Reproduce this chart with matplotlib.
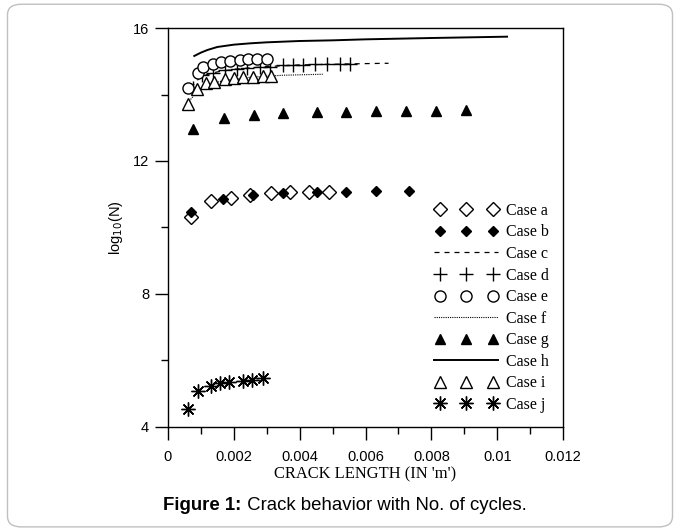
import matplotlib
matplotlib.use("Agg")
from matplotlib import pyplot as plt
from matplotlib.patches import FancyBboxPatch
from matplotlib.ticker import MultipleLocator
from matplotlib.legend_handler import HandlerLine2D

# data
a_x = [0.00070, 0.00131, 0.00192, 0.00250, 0.00313, 0.00371, 0.00429, 0.00490]
a_y = [10.33, 10.81, 10.90, 10.98, 11.04, 11.08, 11.08, 11.08]

b_x = [0.00070, 0.00167, 0.00259, 0.00350, 0.00453, 0.00542, 0.00633, 0.00733]
b_y = [10.46, 10.86, 10.98, 11.03, 11.06, 11.08, 11.11, 11.11]

c_x = [0.0007, 0.0010, 0.0015, 0.0020, 0.0030, 0.0040, 0.0050, 0.0060, 0.0067]
c_y = [14.20, 14.55, 14.68, 14.76, 14.84, 14.89, 14.91, 14.93, 14.94]

d_x = [0.00076, 0.00103, 0.00137, 0.00173, 0.00210, 0.00240, 0.00280, 0.00310,
       0.00350, 0.00380, 0.00411, 0.00447, 0.00484, 0.00523, 0.00554]
d_y = [14.19, 14.59, 14.64, 14.74, 14.76, 14.79, 14.84, 14.84,
       14.89, 14.89, 14.89, 14.91, 14.91, 14.92, 14.92]

e_x = [0.00061, 0.00091, 0.00107, 0.00137, 0.00161, 0.00189, 0.00219, 0.00243, 0.00271, 0.00301]
e_y = [14.19, 14.66, 14.82, 14.91, 14.97, 15.01, 15.04, 15.07, 15.07, 15.07]

f_x = [0.0006, 0.0009, 0.0012, 0.0017, 0.0025, 0.0035, 0.0047]
f_y = [13.75, 14.10, 14.30, 14.42, 14.52, 14.58, 14.61]

g_x = [0.00076, 0.00170, 0.00262, 0.00350, 0.00453, 0.00542, 0.00633, 0.00724, 0.00815, 0.00904]
g_y = [12.96, 13.30, 13.38, 13.43, 13.46, 13.48, 13.51, 13.51, 13.51, 13.53]

h_x = [0.0008, 0.0010, 0.0012, 0.0015, 0.0020, 0.0025, 0.0030, 0.0040, 0.0050, 0.0060, 0.0080, 0.0103]
h_y = [15.16, 15.26, 15.34, 15.43, 15.50, 15.54, 15.57, 15.61, 15.63, 15.66, 15.70, 15.74]

i_x = [0.00061, 0.00088, 0.00116, 0.00140, 0.00173, 0.00201, 0.00228, 0.00259, 0.00289, 0.00313]
i_y = [13.71, 14.16, 14.34, 14.37, 14.47, 14.49, 14.52, 14.54, 14.56, 14.56]

j_x = [0.00061, 0.00091, 0.00131, 0.00158, 0.00186, 0.00228, 0.00256, 0.00289]
j_y = [4.54, 5.08, 5.23, 5.31, 5.36, 5.39, 5.41, 5.48]

x_ticks = [0, 0.002, 0.004, 0.006, 0.008, 0.01, 0.012]
x_tick_labels = ["0", "0.002", "0.004", "0.006", "0.008", "0.01", "0.012"]
y_ticks = [4, 8, 12, 16]

plt.rcParams["font.family"] = "Liberation Sans"

fig = plt.figure(figsize=(6.8, 5.29), dpi=100)

# rounded grey frame around the whole figure
frame = FancyBboxPatch((0.011, 0.004), 0.978, 0.988, boxstyle="round,pad=0,rounding_size=0.02",
                       transform=fig.transFigure, fill=False, edgecolor="#c0c0c0", linewidth=1.0)
fig.patches.append(frame)

ax = fig.add_axes([0.247, 0.193, 0.581, 0.754])

k = "black"
la, = ax.plot(a_x, a_y, linestyle="none", marker="D", markersize=7, markerfacecolor="white",
              markeredgecolor=k, markeredgewidth=1.0, label="Case a")
lb, = ax.plot(b_x, b_y, linestyle="none", marker="D", markersize=5.5, color=k, label="Case b")
lc, = ax.plot(c_x, c_y, linestyle=(0, (4, 4)), color=k, linewidth=0.9, label="Case c")
ld, = ax.plot(d_x, d_y, linestyle="none", marker="+", markersize=10, markeredgewidth=1.0,
              color=k, label="Case d")
le, = ax.plot(e_x, e_y, linestyle="none", marker="o", markersize=8, markerfacecolor="white",
              markeredgecolor=k, markeredgewidth=1.0, label="Case e")
lf, = ax.plot(f_x, f_y, linestyle=(0, (1, 1)), color=k, linewidth=0.8, label="Case f")
lg, = ax.plot(g_x, g_y, linestyle="none", marker="^", markersize=6.5, color=k, label="Case g")
lh, = ax.plot(h_x, h_y, linestyle="-", color=k, linewidth=1.4, label="Case h")
li, = ax.plot(i_x, i_y, linestyle="none", marker="^", markersize=8, markerfacecolor="white",
              markeredgecolor=k, markeredgewidth=1.0, label="Case i")
lj, = ax.plot(j_x, j_y, linestyle="none", marker=(8, 2, 0), markersize=10, markeredgewidth=1.0,
              color=k, label="Case j")

ax.set_xlim(0, 0.012)
ax.set_ylim(4, 16)
ax.set_xticks(x_ticks)
ax.set_xticklabels(x_tick_labels)
ax.xaxis.set_minor_locator(MultipleLocator(0.001))
ax.set_yticks(y_ticks)
ax.yaxis.set_minor_locator(MultipleLocator(2))
ax.tick_params(axis="both", which="major", direction="out", length=9.5, width=1, labelsize=10.5)
ax.tick_params(axis="both", which="minor", direction="out", length=4.7, width=1)
ax.tick_params(axis="x", which="major", pad=7)
ax.tick_params(axis="y", which="major", pad=4)
for s in ax.spines.values():
    s.set_linewidth(1.0)

ax.set_xlabel("CRACK LENGTH (IN 'm')", fontfamily="Liberation Serif", fontsize=11.9, labelpad=2)
ax.set_ylabel("log$_{10}$(N)", fontsize=10.5, labelpad=6)

# marker entries sit a bit further in than the line entries
mk = HandlerLine2D(marker_pad=0.65)
hmap = {la: mk, lb: mk, ld: mk, le: mk, lg: mk, li: mk, lj: mk}
ax.legend(loc="upper right", bbox_to_anchor=(0.965, 0.562), frameon=False, numpoints=3,
          handlelength=4.6, handletextpad=0.2, labelspacing=0.35, borderpad=0, borderaxespad=0,
          handler_map=hmap, prop={"family": "Liberation Serif", "size": 11.5})

# caption with bold prefix
cap_y = 1 - 505 / 529
t1 = fig.text(0.24, cap_y, "Figure 1:", fontweight="bold", fontsize=13.4, va="center", ha="left")
fig.canvas.draw()
bb = t1.get_window_extent()
x_next = bb.x1 / fig.bbox.width
fig.text(x_next, cap_y, " Crack behavior with No. of cycles.", fontsize=13.4, va="center", ha="left")

fig.savefig("out.png", dpi=100)
